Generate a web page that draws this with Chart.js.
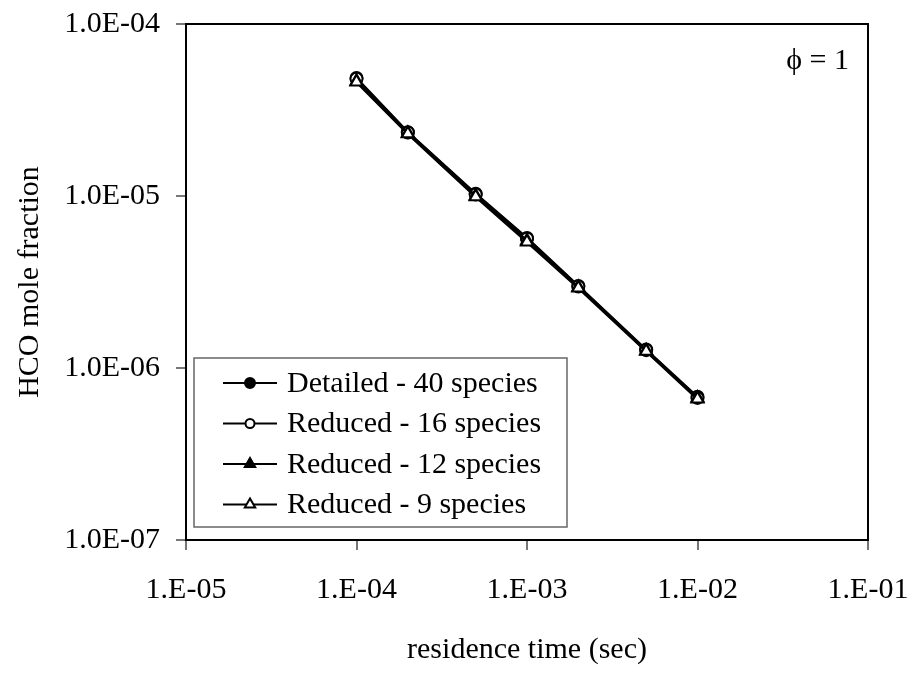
<!DOCTYPE html>
<html>
<head>
<meta charset="utf-8">
<script src="https://cdn.jsdelivr.net/npm/chart.js@4"></script>
<style>
  html, body { margin: 0; padding: 0; background: #fff; }
  #wrap { width: 915px; height: 677px; }
</style>
</head>
<body>
<div id="wrap"><canvas id="hco-chart" width="915" height="677"></canvas></div>
<script>
// residence time (sec)
const times = [1e-4, 2e-4, 5e-4, 1e-3, 2e-3, 5e-3, 1e-2];
// HCO mole fraction for each mechanism
const detailed40 = [4.85e-5, 2.35e-5, 1.03e-5, 5.7e-6, 3.0e-6, 1.28e-6, 6.8e-7];
const reduced16 = [4.8e-5, 2.34e-5, 1.02e-5, 5.65e-6, 2.98e-6, 1.27e-6, 6.7e-7];
const reduced12 = [4.65e-5, 2.32e-5, 1.0e-5, 5.5e-6, 2.95e-6, 1.26e-6, 6.7e-7];
const reduced9 = [4.6e-5, 2.3e-5, 0.99e-5, 5.4e-6, 2.92e-6, 1.25e-6, 6.6e-7];
const seriesNames = ["Detailed - 40 species", "Reduced - 16 species", "Reduced - 12 species", "Reduced - 9 species"];
const xTicks = [1e-5, 1e-4, 1e-3, 1e-2, 1e-1];
const yTicks = [1e-7, 1e-6, 1e-5, 1e-4];

const FONT = "'Liberation Serif', 'Times New Roman', serif";

function pts(ys) {
    return times.map((t, i) => ({ x: t, y: ys[i] }));
}

function expLabel(v, digits) {
    const e = Math.round(Math.log10(v));
    const s = Math.abs(e) < 10 ? "0" + Math.abs(e) : "" + Math.abs(e);
    return (digits ? "1.0" : "1.") + "E" + (e < 0 ? "-" : "+") + s;
}

const styles = [
    { pointStyle: 'circle', fill: '#000', r: 6, lr: 5 },
    { pointStyle: 'circle', fill: '#fff', r: 6, lr: 4.5 },
    { pointStyle: 'triangle', fill: '#000', r: 7, lr: 6 },
    { pointStyle: 'triangle', fill: '#fff', r: 7, lr: 6 }
];

const allData = [detailed40, reduced16, reduced12, reduced9];

// frame, legend box and phi label
const extras = {
    id: 'extras',
    afterDatasetsDraw(chart) {
        const ctx = chart.ctx;
        const a = chart.chartArea;
        ctx.save();
        ctx.strokeStyle = '#000';
        ctx.lineWidth = 2;
        ctx.strokeRect(a.left, a.top, a.right - a.left, a.bottom - a.top);

        // legend
        const bx = a.left + 8, bw = 373, bh = 169;
        const by = a.bottom - 13 - bh;
        ctx.fillStyle = '#fff';
        ctx.fillRect(bx, by, bw, bh);
        ctx.strokeStyle = '#666';
        ctx.lineWidth = 1.5;
        ctx.strokeRect(bx, by, bw, bh);
        ctx.font = "30px " + FONT;
        ctx.textBaseline = 'middle';
        ctx.textAlign = 'left';
        seriesNames.forEach((name, i) => {
            const y = by + 25 + i * 40.5;
            const x1 = bx + 29, x2 = bx + 83, xm = (x1 + x2) / 2;
            ctx.strokeStyle = '#000';
            ctx.lineWidth = 2;
            ctx.beginPath();
            ctx.moveTo(x1, y);
            ctx.lineTo(x2, y);
            ctx.stroke();
            const st = styles[i];
            ctx.fillStyle = st.fill;
            ctx.lineWidth = 2;
            ctx.beginPath();
            if (st.pointStyle === 'circle') {
                ctx.arc(xm, y, st.lr, 0, Math.PI * 2);
            } else {
                const r = st.lr;
                ctx.moveTo(xm, y - r);
                ctx.lineTo(xm + r * 0.866, y + r * 0.5);
                ctx.lineTo(xm - r * 0.866, y + r * 0.5);
                ctx.closePath();
            }
            ctx.fill();
            ctx.stroke();
            ctx.fillStyle = '#000';
            ctx.fillText(name, bx + 93, y + 1);
        });

        ctx.textAlign = 'right';
        ctx.fillText("\u03D5 = 1", a.right - 19, a.top + 37);
        ctx.restore();
    }
};

new Chart(document.getElementById("hco-chart"), {
    type: 'line',
    data: {
        datasets: allData.map((ys, i) => ({
            label: seriesNames[i],
            data: pts(ys),
            borderColor: '#000',
            borderWidth: 2.5,
            backgroundColor: styles[i].fill,
            pointStyle: styles[i].pointStyle,
            pointRadius: styles[i].r,
            pointBorderWidth: 2,
            pointBorderColor: '#000',
            pointBackgroundColor: styles[i].fill,
            fill: false,
            tension: 0,
            order: 4 - i
        }))
    },
    options: {
        responsive: false,
        animation: false,
        events: [],
        layout: { padding: { left: 0, top: 24, right: 47, bottom: 0 } },
        plugins: {
            legend: { display: false },
            tooltip: { enabled: false }
        },
        scales: {
            x: {
                type: 'logarithmic',
                min: 1e-5,
                max: 1e-1,
                afterBuildTicks: (axis) => { axis.ticks = xTicks.map(v => ({ value: v })); },
                afterFit: (scale) => {
                    scale.height = 137;
                    scale.paddingLeft = 0;
                    scale.paddingRight = 0;
                },
                grid: { drawOnChartArea: false, drawTicks: true, tickLength: 10, color: '#777', lineWidth: 2 },
                border: { display: true, color: '#000', width: 2 },
                ticks: {
                    autoSkip: false,
                    maxRotation: 0,
                    padding: 22,
                    color: '#000',
                    font: { family: FONT, size: 30 },
                    callback: (v) => expLabel(v, false)
                },
                title: {
                    display: true,
                    text: 'residence time (sec)',
                    color: '#000',
                    font: { family: FONT, size: 30 },
                    padding: { top: 0, bottom: 9 }
                }
            },
            y: {
                type: 'logarithmic',
                min: 1e-7,
                max: 1e-4,
                afterBuildTicks: (axis) => { axis.ticks = yTicks.map(v => ({ value: v })); },
                afterFit: (scale) => {
                    scale.width = 186;
                    scale.paddingTop = 0;
                    scale.paddingBottom = 0;
                },
                grid: { drawOnChartArea: false, drawTicks: true, tickLength: 10, color: '#777', lineWidth: 2 },
                border: { display: true, color: '#000', width: 2 },
                ticks: {
                    autoSkip: false,
                    padding: 16,
                    color: '#000',
                    font: { family: FONT, size: 30 },
                    callback: (v) => expLabel(v, true)
                },
                title: {
                    display: true,
                    text: 'HCO mole fraction',
                    color: '#000',
                    font: { family: FONT, size: 30 },
                    padding: { top: 12, bottom: 0 }
                }
            }
        }
    },
    plugins: [extras]
});
</script>
</body>
</html>
